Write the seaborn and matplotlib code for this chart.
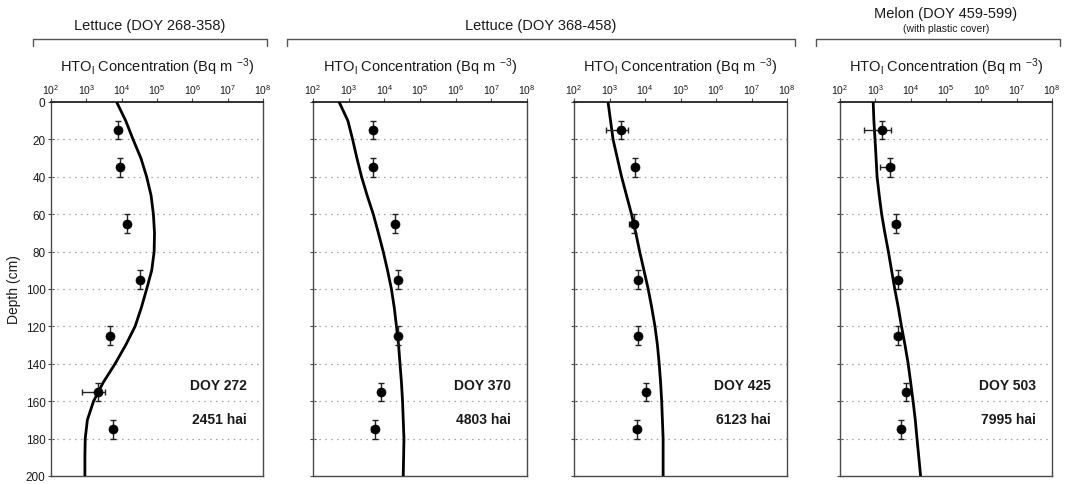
import numpy as np
import pandas as pd
import seaborn as sns
import matplotlib.pyplot as plt
from matplotlib.lines import Line2D
from matplotlib.ticker import FixedLocator, LogFormatterMathtext, MultipleLocator, NullLocator

sns.set_theme(style="white")
plt.rcParams["font.family"] = ["Liberation Sans", "DejaVu Sans"]
plt.rcParams["mathtext.fontset"] = "custom"
plt.rcParams["mathtext.rm"] = "Liberation Sans"
plt.rcParams["mathtext.it"] = "Liberation Sans:italic"
plt.rcParams["mathtext.bf"] = "Liberation Sans:bold"

# ---- data -------------------------------------------------------------
panel_labels = ["DOY 272", "DOY 370", "DOY 425", "DOY 503"]
hai_labels = ["2451 hai", "4803 hai", "6123 hai", "7995 hai"]
conc_ticks = [1e2, 1e3, 1e4, 1e5, 1e6, 1e7, 1e8]

# modelled profile depths (cm)
curve_depth = [0, 10, 20, 30, 40, 50, 60, 70, 80, 90, 100,
               110, 120, 130, 140, 150, 160, 170, 180, 190, 200]

# modelled HTO concentration (Bq m-3) for each day
curve_doy272 = [7200, 13000, 21000, 35000, 51000, 68000, 79000, 85000, 83000, 71000, 51000,
                36000, 24000, 13000, 6500, 3000, 1600, 1070, 930, 910, 910]
curve_doy370 = [540, 950, 1290, 1700, 2300, 3300, 4900, 6800, 9300, 12300, 15800,
                19000, 21900, 25100, 27500, 30200, 32400, 33900, 35500, 34700, 33900]
curve_doy425 = [910, 1070, 1260, 1660, 2190, 3020, 4170, 5500, 7080, 9330, 12300,
                15500, 19100, 22400, 25100, 27500, 29500, 30900, 32400, 32400, 32400]
curve_doy503 = [870, 910, 980, 1050, 1120, 1290, 1510, 1860, 2340, 2880, 3550,
                4470, 5500, 6920, 8510, 10000, 11700, 13500, 15100, 17000, 19100]

# measured samples
sample_depth = [15, 35, 65, 95, 125, 155, 175]
depth_err = [5, 5, 5, 5, 5, 5, 5]

obs_doy272 = [8100, 8900, 13800, 33000, 4700, 2100, 5600]
obs_doy370 = [4900, 4900, 20000, 23400, 23400, 7900, 5400]
obs_doy425 = [2100, 5100, 4800, 6200, 6500, 10500, 5800]
obs_doy503 = [1580, 2570, 3800, 4270, 4470, 7240, 5500]

# lower / upper bounds of the concentration uncertainty
lo_doy272 = [7000, 7800, 11800, 28500, 3800, 740, 4700]
hi_doy272 = [9400, 10200, 16000, 38000, 5700, 3400, 6600]
lo_doy370 = [3900, 4000, 17500, 20500, 21000, 6900, 4200]
hi_doy370 = [5700, 5700, 22800, 26500, 26000, 8900, 6300]
lo_doy425 = [820, 4200, 3600, 5200, 5600, 9100, 4700]
hi_doy425 = [3400, 6000, 6000, 7300, 7500, 12000, 6900]
lo_doy503 = [490, 1400, 3000, 3300, 3300, 6300, 4600]
hi_doy503 = [2800, 3400, 4600, 5100, 5500, 8200, 6500]

curves = [curve_doy272, curve_doy370, curve_doy425, curve_doy503]
obs = [obs_doy272, obs_doy370, obs_doy425, obs_doy503]
lows = [lo_doy272, lo_doy370, lo_doy425, lo_doy503]
highs = [hi_doy272, hi_doy370, hi_doy425, hi_doy503]

# ---- figure -----------------------------------------------------------
fig = plt.figure(figsize=(10.68, 4.85), dpi=100)

W, H = 1068, 485
lefts = [51, 313, 574, 840]
widths = [212, 214, 213, 212]
top_px, bot_px = 103, 477

spine_col = "#4a4a4a"
text_col = "#1a1a1a"
axes = []
for i in range(4):
    ax = fig.add_axes([lefts[i] / W, 1 - bot_px / H, widths[i] / W, (bot_px - top_px) / H])
    axes.append(ax)

    cdf = pd.DataFrame({"depth": curve_depth, "conc": curves[i]})
    sns.lineplot(data=cdf, x="conc", y="depth", orient="y", sort=False,
                 color="black", linewidth=2.0, ax=ax, zorder=3)

    odf = pd.DataFrame({"depth": sample_depth, "conc": obs[i]})
    c = np.array(obs[i], dtype=float)
    xerr = np.vstack([c - np.array(lows[i]), np.array(highs[i]) - c])
    ax.errorbar(c, sample_depth, xerr=xerr, yerr=depth_err, fmt="none",
                ecolor="#222222", elinewidth=1.0, capsize=2.5, capthick=1.0, zorder=4)
    sns.scatterplot(data=odf, x="conc", y="depth", color="black", s=42,
                    edgecolor="black", linewidth=0.5, ax=ax, zorder=5)

    ax.set_xscale("log")
    ax.set_xlim(conc_ticks[0], conc_ticks[-1])
    ax.set_ylim(200, 0)
    ax.xaxis.set_major_locator(FixedLocator(conc_ticks))
    ax.xaxis.set_minor_locator(NullLocator())
    ax.xaxis.set_major_formatter(LogFormatterMathtext())
    ax.xaxis.tick_top()
    ax.yaxis.set_major_locator(MultipleLocator(20))
    ax.tick_params(axis="x", which="major", direction="out", length=3, width=0.8,
                   color=spine_col, labelsize=7.5, pad=1, top=True, bottom=False,
                   labelcolor=text_col)
    ax.tick_params(axis="y", which="major", direction="inout", length=5, width=0.8,
                   color=spine_col, labelsize=8.5, pad=1.5, left=True,
                   labelcolor=text_col)
    ax.set_xlabel("")
    ax.set_ylabel("")
    for g in range(20, 200, 20):
        ax.axhline(g, color="#a0a0a0", linestyle=(0, (1.2, 3.5)), linewidth=0.9, zorder=1)
    for side, sp in ax.spines.items():
        sp.set_color(spine_col)
        sp.set_linewidth(1.0)
    ax.spines["top"].set_color("#222222")
    ax.spines["top"].set_linewidth(1.3)

    if i > 0:
        ax.set_yticklabels([])

    ax.text(0.925, 0.242, panel_labels[i], transform=ax.transAxes, ha="right",
            va="center", fontsize=10, fontweight="bold", color=text_col)
    ax.text(0.925, 0.152, hai_labels[i], transform=ax.transAxes, ha="right",
            va="center", fontsize=10, fontweight="bold", color=text_col)

    cx = (lefts[i] + widths[i] / 2) / W
    fig.text(cx, 1 - 67 / H, r"HTO$_{\mathrm{l}}$ Concentration (Bq m $^{-3}$)",
             ha="center", va="center", fontsize=10.5, color=text_col)

axes[0].set_ylabel("Depth (cm)", fontsize=10, labelpad=3, color=text_col)

# ---- crop-period brackets ----------------------------------------------
def bracket(x0, x1, y=40, drop=7):
    xs = [x0 / W, x0 / W, x1 / W, x1 / W]
    ys = [1 - (y + drop) / H, 1 - y / H, 1 - y / H, 1 - (y + drop) / H]
    fig.add_artist(Line2D(xs, ys, color="#555555", linewidth=1.0))

bracket(33, 267)
bracket(287, 795)
bracket(816, 1060)

fig.text(150 / W, 1 - 26 / H, "Lettuce (DOY 268-358)", ha="center", va="center",
         fontsize=10.5, color=text_col)
fig.text(541 / W, 1 - 26 / H, "Lettuce (DOY 368-458)", ha="center", va="center",
         fontsize=10.5, color=text_col)
fig.text(946 / W, 1 - 14 / H, "Melon (DOY 459-599)", ha="center", va="center",
         fontsize=10.5, color=text_col)
fig.text(946 / W, 1 - 29 / H, "(with plastic cover)", ha="center", va="center",
         fontsize=7.5, color=text_col)

fig.savefig("out.png", dpi=100, facecolor="white")
